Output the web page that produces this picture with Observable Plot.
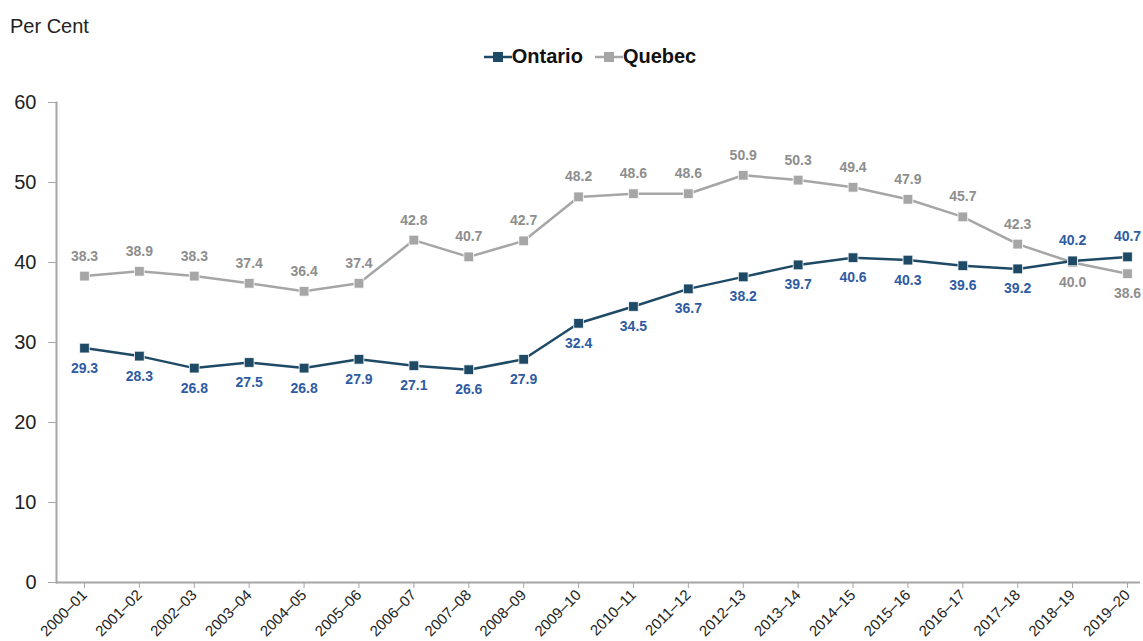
<!DOCTYPE html>
<html><head><meta charset="utf-8">
<script src="https://cdn.jsdelivr.net/npm/d3@7"></script>
<script src="https://cdn.jsdelivr.net/npm/@observablehq/plot@0.6"></script>
<style>
body{margin:0;background:#fff;font-family:"Liberation Sans Narrow","Arial Narrow","Liberation Sans",Arial,sans-serif;}
#wrap{position:relative;width:1143px;height:641px;}
#unit{position:absolute;left:10px;top:15px;font-size:20px;color:#222;}
#legend{position:absolute;left:0;width:1180px;top:45px;text-align:center;font-size:20px;font-weight:bold;color:#111;}
#legend span{display:inline-flex;align-items:center;margin:0 6px;}
</style></head><body>
<div id="wrap"><div id="chart"></div><div id="unit">Per Cent</div>
<div id="legend"></div></div>
<script>
const years = ["2000–01","2001–02","2002–03","2003–04","2004–05","2005–06","2006–07","2007–08","2008–09","2009–10","2010–11","2011–12","2012–13","2013–14","2014–15","2015–16","2016–17","2017–18","2018–19","2019–20"];
const ontario = [29.3,28.3,26.8,27.5,26.8,27.9,27.1,26.6,27.9,32.4,34.5,36.7,38.2,39.7,40.6,40.3,39.6,39.2,40.2,40.7];
const quebec = [38.3,38.9,38.3,37.4,36.4,37.4,42.8,40.7,42.7,48.2,48.6,48.6,50.9,50.3,49.4,47.9,45.7,42.3,40.0,38.6];
const yTicks = [0,10,20,30,40,50,60];
const ontColor = "#1f4a66", ontLabel = "#2f5ba3", queColor = "#a6a6a6", queLabel = "#8e8e8e";

const ont = years.map((y,i)=>({year:y, v:ontario[i], above: i>=18}));
const que = years.map((y,i)=>({year:y, v:quebec[i], above: i<18}));

const font = '"Liberation Sans Narrow","Arial Narrow","Liberation Sans",Arial,sans-serif';
const chart = Plot.plot({
  width:1143, height:641,
  marginTop:102, marginBottom:59, marginLeft:56, marginRight:3,
  style:{fontFamily:font, background:"#fff"},
  x:{type:"point", domain:years, range:[84,1127], padding:0, round:false, label:null},
  y:{domain:[0,60], label:null},
  marks:[
    Plot.frame({anchor:"left", stroke:queColor, strokeWidth:2}),
    Plot.ruleY([0], {stroke:queColor, strokeWidth:2}),
    Plot.axisY({ticks:yTicks, tickSize:8, stroke:queColor, tickPadding:12, fontSize:20, fill:"#222", tickFormat:d=>d}),
    Plot.axisX({tickSize:6, stroke:queColor, tickRotate:-45, fontSize:15, fill:"#222", tickPadding:4}),
    Plot.line(que,{x:"year", y:"v", stroke:queColor, strokeWidth:2.5}),
    Plot.line(ont,{x:"year", y:"v", stroke:ontColor, strokeWidth:2.5}),
    Plot.dot(que,{x:"year", y:"v", symbol:"square", r:5.5, fill:queColor, stroke:"#fff", strokeWidth:0.8}),
    Plot.dot(ont,{x:"year", y:"v", symbol:"square", r:5.5, fill:ontColor, stroke:"#fff", strokeWidth:0.8}),
    Plot.text(que.filter(d=>d.above),{x:"year", y:"v", text:d=>d.v.toFixed(1), dy:-20, fill:queLabel, fontWeight:"bold", fontSize:14}),
    Plot.text(que.filter(d=>!d.above),{x:"year", y:"v", text:d=>d.v.toFixed(1), dy:20, fill:queLabel, fontWeight:"bold", fontSize:14}),
    Plot.text(ont.filter(d=>d.above),{x:"year", y:"v", text:d=>d.v.toFixed(1), dy:-20, fill:ontLabel, fontWeight:"bold", fontSize:14}),
    Plot.text(ont.filter(d=>!d.above),{x:"year", y:"v", text:d=>d.v.toFixed(1), dy:20, fill:ontLabel, fontWeight:"bold", fontSize:14})
  ]
});
document.getElementById("chart").appendChild(chart);

const series = [["Ontario", ontColor],["Quebec", queColor]];
const leg = document.getElementById("legend");
series.forEach(([name,c])=>{
  const s = document.createElement("span");
  s.innerHTML = `<svg width="28" height="14"><line x1="0" y1="7" x2="28" y2="7" stroke="${c}" stroke-width="2.5"/><rect x="9" y="2" width="10" height="10" fill="${c}"/></svg>${name}`;
  leg.appendChild(s);
});
</script></body></html>
